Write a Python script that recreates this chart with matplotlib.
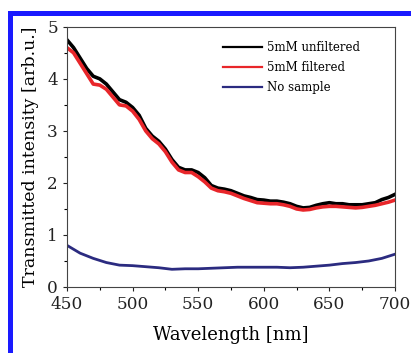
import numpy as np
import matplotlib
matplotlib.use("Agg")
import matplotlib.pyplot as plt
from matplotlib.patches import Rectangle
from matplotlib.ticker import MultipleLocator

""" values read off the reference spectra """

wl = [450, 455, 460, 465, 470, 475, 480, 485, 490, 495, 500, 505, 510, 515, 520,
      525, 530, 535, 540, 545, 550, 555, 560, 565, 570, 575, 580, 585, 590, 595,
      600, 605, 610, 615, 620, 625, 630, 635, 640, 645, 650, 655, 660, 665, 670,
      675, 680, 685, 690, 695, 700]

unfiltered = [4.75, 4.6, 4.4, 4.2, 4.05, 4.0, 3.9, 3.75, 3.6, 3.55, 3.45, 3.3, 3.05, 2.9, 2.8,
              2.65, 2.45, 2.3, 2.25, 2.25, 2.2, 2.1, 1.95, 1.9, 1.88, 1.85, 1.8, 1.75, 1.72, 1.68,
              1.67, 1.65, 1.65, 1.63, 1.6, 1.55, 1.52, 1.53, 1.57, 1.6, 1.62, 1.6, 1.6, 1.58, 1.58,
              1.58, 1.6, 1.62, 1.68, 1.72, 1.78]

filtered = [4.6, 4.5, 4.3, 4.1, 3.9, 3.88, 3.8, 3.65, 3.5, 3.48, 3.38, 3.22, 3.0, 2.85, 2.75,
            2.6, 2.4, 2.25, 2.2, 2.2, 2.12, 2.02, 1.9, 1.85, 1.83, 1.8, 1.75, 1.7, 1.66, 1.62,
            1.61, 1.6, 1.6, 1.58, 1.55, 1.5, 1.48, 1.49, 1.52, 1.54, 1.55, 1.55, 1.54, 1.53, 1.52,
            1.53, 1.55, 1.57, 1.6, 1.63, 1.67]

wl_blank = [450, 460, 470, 480, 490, 500, 510, 520, 530, 540, 550, 560, 570, 580,
            590, 600, 610, 620, 630, 640, 650, 660, 670, 680, 690, 700]
no_sample = [0.8, 0.65, 0.55, 0.47, 0.42, 0.41, 0.39, 0.37, 0.34, 0.35, 0.35, 0.36, 0.37, 0.38,
             0.38, 0.38, 0.38, 0.37, 0.38, 0.4, 0.42, 0.45, 0.47, 0.5, 0.55, 0.63]

labels = ["5mM unfiltered", "5mM filtered", "No sample"]

plt.rcParams["font.family"] = "DejaVu Serif"

fig = plt.figure(figsize=(4.11, 3.53), dpi=100)
ax = fig.add_axes([0.163, 0.187, 0.798, 0.737])

ax.plot(wl, unfiltered, color="black", lw=2.6, label=labels[0])
ax.plot(wl, filtered, color="#e8262a", lw=2.6, label=labels[1])
ax.plot(wl_blank, no_sample, color="#2b2b80", lw=2.0, label=labels[2])

ax.set_xlim(450, 700)
ax.set_ylim(0, 5)
ax.xaxis.set_major_locator(MultipleLocator(50))
ax.xaxis.set_minor_locator(MultipleLocator(25))
ax.yaxis.set_major_locator(MultipleLocator(1))
ax.yaxis.set_minor_locator(MultipleLocator(0.5))
ax.tick_params(which="major", direction="out", length=3, width=0.8, labelsize=12.2, colors="#222222")
ax.tick_params(which="minor", direction="out", length=2, width=0.8)
for s in ax.spines.values():
    s.set_color("#444444")

ax.set_xlabel("Wavelength [nm]", fontsize=13, labelpad=9)
ax.set_ylabel("Transmitted intensity [arb.u.]", fontsize=12.5, labelpad=6)

leg = ax.legend(loc="upper left", bbox_to_anchor=(0.476, 0.945), frameon=False, fontsize=8.5,
                handlelength=3.3, handletextpad=0.4, labelspacing=0.6, borderpad=0, borderaxespad=0)
for h in leg.get_lines():
    h.set_linewidth(1.6)

# blue frame around the figure
fig.patches.append(Rectangle((9.5 / 411, -0.05), (412.5 - 9.5) / 411, 1.05 + (339.5 - 353) / 353,
                             transform=fig.transFigure, fill=False, ec="#1a1aff", lw=3.6))

fig.savefig("out.png", dpi=100)
